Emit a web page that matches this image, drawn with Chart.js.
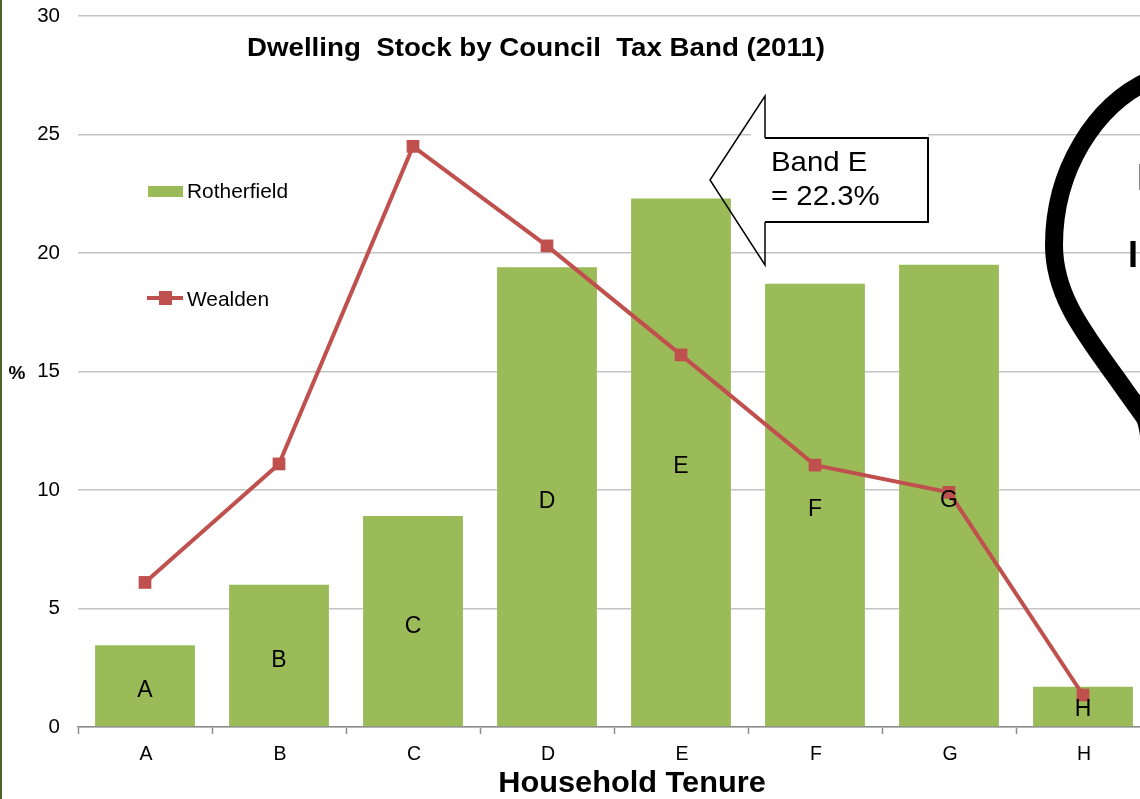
<!DOCTYPE html>
<html>
<head>
<meta charset="utf-8">
<title>Dwelling Stock by Council Tax Band (2011)</title>
<script src="https://cdn.jsdelivr.net/npm/chart.js@4"></script>
<style>
    html, body { margin: 0; padding: 0; background: #fff; overflow: hidden; }
    #wrap { position: relative; width: 1140px; height: 799px; overflow: hidden; }
    #stockChart { position: absolute; left: 0; top: 0; }
    #edge { position: absolute; left: 0; top: 0; width: 2px; height: 799px; background: #4f6228; }
</style>
</head>
<body>
<div id="wrap">
    <canvas id="stockChart" width="1160" height="799" style="width:1160px;height:799px"></canvas>
    <div id="edge"></div>
</div>
<script>
const categories = ['A', 'B', 'C', 'D', 'E', 'F', 'G', 'H'];
const rotherfield = [3.45, 6.0, 8.9, 19.4, 22.3, 18.7, 19.5, 1.7];
const wealden = [6.1, 11.1, 24.5, 20.3, 15.7, 11.05, 9.9, 1.35];
const yMax = 30;
const yStep = 5;

const GREEN = '#9bbb59';
const RED = '#c0504d';
const FONT = '"Liberation Sans", Arial, sans-serif';

// letters typed on the bars in the original, at hand picked heights
const barLetterY = [691, 661, 627, 502, 467, 510, 501, 710];

// the original text is a little wider than the font, hence the stretch
function drawText(ctx, str, x, y, font, align, stretch) {
    ctx.save();
    ctx.translate(x, y);
    ctx.scale(stretch || 1, 1);
    ctx.font = font;
    ctx.fillStyle = '#000';
    ctx.textAlign = align || 'left';
    ctx.textBaseline = 'middle';
    ctx.fillText(str, 0, 0);
    ctx.restore();
}

// title, legend, call-out and the other bits laid over the chart
const overlay = {
    id: 'overlay',
    afterDatasetsDraw(chart) {
        const ctx = chart.ctx;
        const x = chart.scales.x;
        ctx.save();

        categories.forEach(function (c, i) {
            drawText(ctx, c, x.getPixelForValue(i), barLetterY[i], '23px ' + FONT, 'center');
        });

        drawText(ctx, 'Dwelling  Stock by Council  Tax Band (2011)', 536, 49, 'bold 26px ' + FONT, 'center', 1.065);
        drawText(ctx, 'Household Tenure', 632, 784, 'bold 29px ' + FONT, 'center', 1.06);
        drawText(ctx, '%', 17, 374, 'bold 19px ' + FONT, 'center');

        // legend
        ctx.fillStyle = GREEN;
        ctx.fillRect(148, 186, 35, 11);
        drawText(ctx, 'Rotherfield', 187, 192, '20.9px ' + FONT);
        ctx.strokeStyle = RED;
        ctx.lineWidth = 4;
        ctx.beginPath();
        ctx.moveTo(147, 298);
        ctx.lineTo(183, 298);
        ctx.stroke();
        ctx.fillStyle = RED;
        ctx.fillRect(159, 291, 13, 14);
        drawText(ctx, 'Wealden', 187, 300, '20.9px ' + FONT);

        // arrow call-out: white body, the head stays open over the bar
        ctx.fillStyle = '#fff';
        ctx.fillRect(751, 132, 177, 6);
        ctx.fillRect(765, 138, 163, 84);
        ctx.strokeStyle = '#000';
        ctx.lineWidth = 1.5;
        ctx.beginPath();
        ctx.moveTo(765, 138);
        ctx.lineTo(765, 96);
        ctx.lineTo(710, 180);
        ctx.lineTo(765, 265);
        ctx.lineTo(765, 222);
        ctx.stroke();
        ctx.lineWidth = 2;
        ctx.beginPath();
        ctx.moveTo(765, 138);
        ctx.lineTo(928, 138);
        ctx.lineTo(928, 222);
        ctx.lineTo(765, 222);
        ctx.stroke();
        drawText(ctx, 'Band E', 771, 163, '28px ' + FONT, 'left', 1.05);
        drawText(ctx, '= 22.3%', 771, 197, '28px ' + FONT, 'left', 1.05);

        // black outline running off the right edge
        ctx.strokeStyle = '#000';
        ctx.lineWidth = 18;
        ctx.beginPath();
        ctx.moveTo(1150, 80);
        ctx.bezierCurveTo(1095, 105, 1054, 170, 1054, 245);
        ctx.bezierCurveTo(1054, 300, 1090, 340, 1125, 390);
        ctx.lineTo(1150, 425);
        ctx.stroke();
        ctx.fillStyle = '#000';
        ctx.beginPath();
        ctx.moveTo(1120, 394);
        ctx.quadraticCurveTo(1137, 411, 1140, 436);
        ctx.lineTo(1150, 436);
        ctx.lineTo(1150, 395);
        ctx.closePath();
        ctx.fill();

        drawText(ctx, 'I', 1128, 257, 'bold 36px ' + FONT);
        ctx.strokeStyle = '#8c8c8c';
        ctx.lineWidth = 1;
        ctx.beginPath();
        ctx.moveTo(1139.5, 164);
        ctx.lineTo(1139.5, 190);
        ctx.stroke();

        ctx.restore();
    }
};

new Chart(document.getElementById('stockChart').getContext('2d'), {
    data: {
        labels: categories,
        datasets: [
            {
                type: 'line',
                label: 'Wealden',
                data: wealden,
                order: 0,
                borderColor: RED,
                backgroundColor: RED,
                borderWidth: 4,
                tension: 0,
                pointStyle: 'rect',
                pointRadius: 9,
                pointBackgroundColor: RED,
                pointBorderColor: RED,
                pointBorderWidth: 0
            },
            {
                type: 'bar',
                label: 'Rotherfield',
                data: rotherfield,
                order: 1,
                backgroundColor: GREEN,
                categoryPercentage: 1,
                barPercentage: 0.745
            }
        ]
    },
    options: {
        responsive: false,
        animation: false,
        layout: { padding: { top: 16, right: 10, left: 0, bottom: 0 } },
        plugins: {
            legend: { display: false },
            title: { display: false },
            tooltip: { enabled: false }
        },
        scales: {
            x: {
                offset: true,
                afterFit(scale) { scale.height = 72; },
                grid: { drawOnChartArea: false, tickLength: 7, tickColor: '#8c8c8c', tickWidth: 1.5, offset: true },
                border: { color: '#8c8c8c', width: 1.5 },
                ticks: { color: '#000', font: { family: FONT, size: 19.5 }, padding: 9, maxRotation: 0, labelOffset: 1 }
            },
            y: {
                min: 0,
                max: yMax,
                afterFit(scale) {
                    scale.width = 78;
                    scale.paddingTop = 0;
                    scale.paddingBottom = 0;
                },
                grid: { color: '#c4c4c4', lineWidth: 1.5, drawTicks: false },
                border: { display: false },
                ticks: { stepSize: yStep, color: '#000', font: { family: FONT, size: 20.5 }, padding: 18 }
            }
        }
    },
    plugins: [overlay]
});
</script>
</body>
</html>
